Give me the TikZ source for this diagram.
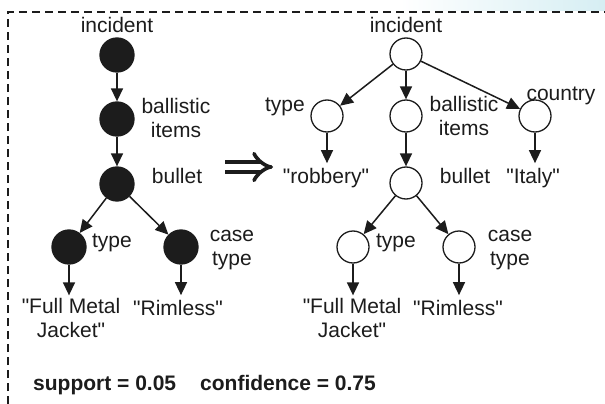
\documentclass[tikz,border=0pt]{standalone}
\usepackage{fontspec}
\setmainfont{Liberation Sans}
\usetikzlibrary{arrows.meta}
\definecolor{ink}{HTML}{1C1C1C}
\definecolor{tint}{RGB}{214,238,243}
% straight double quote, bypassing the TeX text mapping
\newcommand{\sq}{\XeTeXglyph\XeTeXcharglyph"22\relax}
\begin{document}
\begin{tikzpicture}[x=1pt,y=-1pt,
  lbl/.style={font=\fontsize{21}{24.5}\selectfont, inner sep=0pt, text=ink,
    align=center, execute at begin node=\strut},
  boldlbl/.style={lbl, font=\fontsize{21}{24.5}\selectfont\bfseries},
  solidnode/.style={circle, draw=ink, fill=ink, line width=1.3pt,
    minimum size=34pt, inner sep=0pt},
  opennode/.style={circle, draw=ink, fill=white, line width=1.3pt,
    minimum size=32pt, inner sep=0pt},
  link/.style={draw=ink, line width=1.5pt, -{Triangle[length=13pt,width=12pt]}},
  totext/.style={link, shorten >=2.5pt},
]
\useasboundingbox (0,0) rectangle (605,404);
\fill[white] (0,0) rectangle (605,404);
\shade[left color=white, right color=tint] (400,0) rectangle (605,11);

% dashed frame (top and left)
\coordinate (fa) at (8,404);
\coordinate (fb) at (8,12);
\coordinate (fc) at (605,12);
\draw[ink, line width=1.3pt, dash pattern=on 8pt off 5pt] (fa) -- (fb) -- (fc);

% ---------- left tree ----------
\node[solidnode] (L1) at (117,55) {};
\node[solidnode] (L2) at (117,119) {};
\node[solidnode] (L3) at (117,184) {};
\node[solidnode] (L4) at (69,247) {};
\node[solidnode] (L5) at (181,247) {};

\node[lbl, anchor=base] (L1t) at (117,33) {incident};
\node[lbl, anchor=north] (L2t) at (176,97.85) {ballistic\\items};
\node[lbl, anchor=base] (L3t) at (177,183) {bullet};
\node[lbl, anchor=base] (L4t) at (112,247) {type};
\node[lbl, anchor=north] (L5t) at (232,229.85) {case\\type};
\node[lbl, anchor=north] (Lfmj) at (71,297.85) {\sq Full Metal\\Jacket\sq};
\node[lbl, anchor=base] (Lrim) at (178,315) {\sq Rimless\sq};

\draw[link] (L1) -- (L2);
\draw[link] (L2) -- (L3);
\draw[link] (L3) -- (L4);
\draw[link] (L3) -- (L5);
\draw[totext] (L4.south) -- (L4.south |- Lfmj.north);
\draw[totext] (L5.south) -- (L5.south |- Lrim.north);

% ---------- implication ----------
\coordinate (imp0) at (225,167);
\coordinate (imp1) at (273,167);
\draw[ink, line width=3.6pt, double distance=6.5pt, -{Implies}] (imp0) -- (imp1);

% ---------- right tree ----------
\node[opennode] (R0) at (406,54) {};
\node[opennode] (R1) at (327,116) {};
\node[opennode] (R2) at (406,116) {};
\node[opennode] (R3) at (535,116) {};
\node[opennode] (R4) at (406,183) {};
\node[opennode] (R5) at (353,247) {};
\node[opennode] (R6) at (459,247) {};

\node[lbl, anchor=base] (R0t) at (406,33) {incident};
\node[lbl, anchor=base] (R1t) at (285,111) {type};
\node[lbl, anchor=north] (R2t) at (464,95.85) {ballistic\\items};
\node[lbl, anchor=base] (R3t) at (561,100) {country};
\node[lbl, anchor=base] (Rrob) at (326,183) {\sq robbery\sq};
\node[lbl, anchor=base] (R4t) at (465,183) {bullet};
\node[lbl, anchor=base] (Rita) at (533,183) {\sq Italy\sq};
\node[lbl, anchor=base] (R5t) at (396,247) {type};
\node[lbl, anchor=north] (R6t) at (510,229.85) {case\\type};
\node[lbl, anchor=north] (Rfmj) at (352,297.85) {\sq Full Metal\\Jacket\sq};
\node[lbl, anchor=base] (Rrim) at (458,315) {\sq Rimless\sq};

\draw[link] (R0) -- (R1);
\draw[link] (R0) -- (R2);
\draw[link] (R0) -- (R3);
\draw[totext] (R1.south) -- (R1.south |- Rrob.north);
\draw[link] (R2) -- (R4);
\draw[totext] (R3.south) -- (R3.south |- Rita.north);
\draw[link] (R4) -- (R5);
\draw[link] (R4) -- (R6);
\draw[totext] (R5.south) -- (R5.south |- Rfmj.north);
\draw[totext] (R6.south) -- (R6.south |- Rrim.north);

% ---------- measures ----------
\node[boldlbl, anchor=base west] (sup) at (33,390) {support = 0.05};
\node[boldlbl, anchor=base west] (conf) at (200,390) {confidence = 0.75};
\end{tikzpicture}
\end{document}
